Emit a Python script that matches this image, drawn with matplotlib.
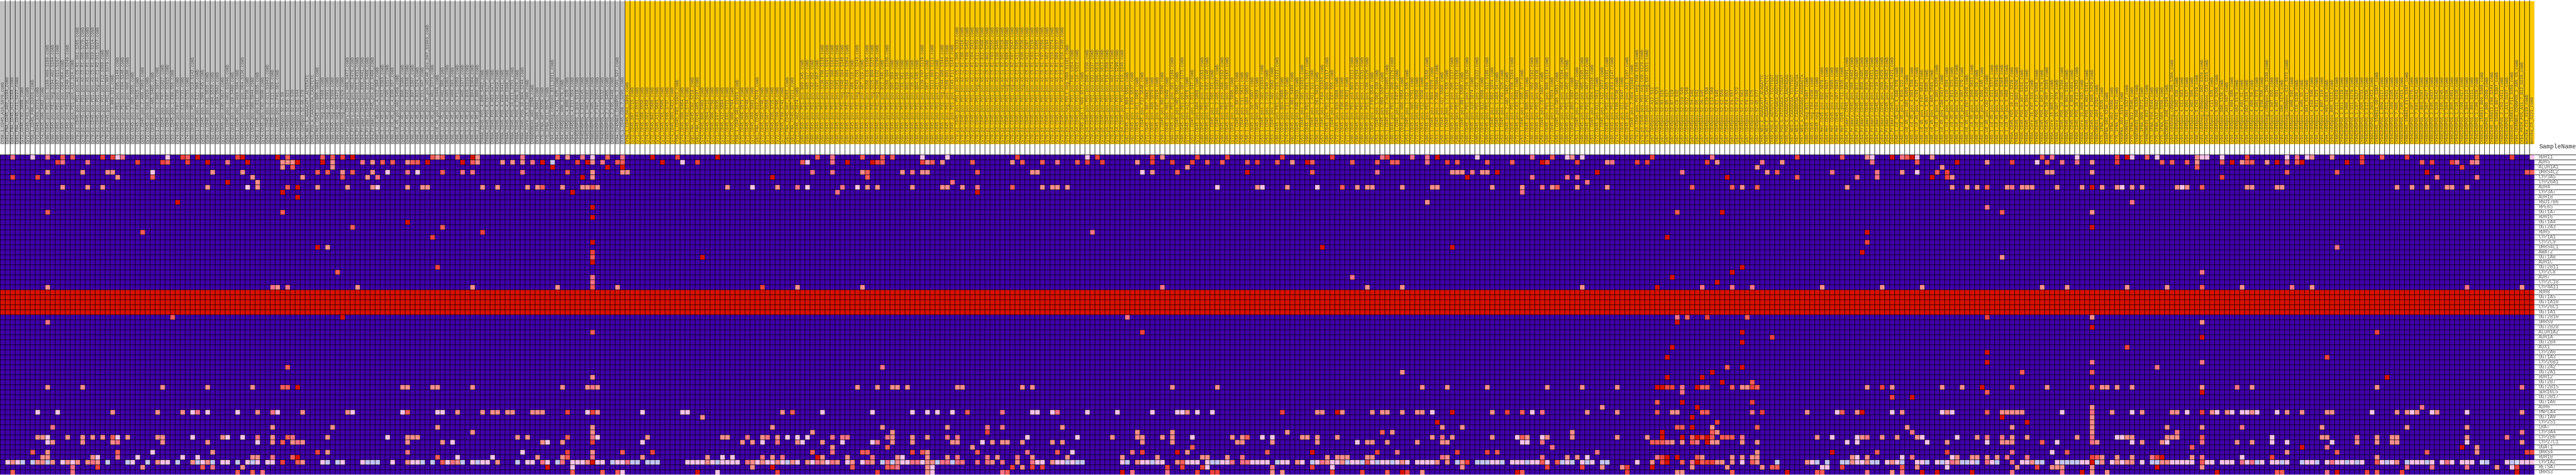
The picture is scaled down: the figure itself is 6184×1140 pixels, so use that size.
import matplotlib
matplotlib.use("Agg")
import matplotlib.pyplot as plt
import numpy as np
from matplotlib.colors import ListedColormap, BoundaryNorm

plt.rcParams["font.family"] = ["Liberation Mono", "DejaVu Sans Mono"]

gene_names = """RDH11 ADH5 ALDH1A1 DHRS4L2 CYP3A5 CYP26A1 ADH4 CYP3A7 ADH1B HSD17B6 RPE65 UGT1A7 RDH16
UGT1A4 UGT2A3 RDH5 CYP1A1 CYP2C9 DHRS4L1 AWAT2 UGT1A8 ADH1C UGT2B11 CYP2C8 ADH7 CYP2C18 CYP4A11
RDH8 UGT1A5 UGT1A10 CYP26C1 UGT1A1 UGT2B10 DHRS9 UGT2B28 ALDH1A2 ADH1A UGT2B4 AOX1 CYP2A6 UGT1A3
CYP26B1 UGT2A2 UGT2A1 RDH12 UGT2B7 UGT2B15 SDR16C5 UGT2B17 UGT1A6 ADH6 PNPLA4 UGT1A9 CYP2S1 LRAT
CYP3A4 CYP2B6 CYP27C1 DGAT1 DHRS4 RDH10 CYP1A2 RETSAT DHRS3""".split()

# these genes are saturated in every sample
saturated_genes = ["RDH8", "UGT1A5", "UGT1A10", "CYP26C1", "UGT1A1"]

sample_names = """CY58_1_CD45_A10_S970_comb Cy81_FNA_CD45_A02_S194_comb Cy81_FNA_CD45_H12_S288_comb Cy81_FNA_CD45_C11_S227_comb
Cy72_CD45_C02_S698_comb Cy72_CD45_F03_S735_comb CY58_1_CD45_F06_S1026_comb Cy72_CD45_E03_S723_comb Cy74_CD45_G06_S462_comb
cy80.Cd45.pos.PD1.pos.S189.H09.S189.comb cy80.Cd45.pos.Pd1.neg.S194.A02.S194.comb cy80.Cd45.pos.PD1.pos.S167.G11.S167.comb
cy80.Cd45.pos.PD1.pos.C04.S64.comb cy80.Cd45.pos.Pd1.neg.S249.C09.S249.comb cy80.Cd45.pos.PD1.pos.A12.S24.comb
cy79.p1.CD45.pos.PD1.pos.AS.C5.R1.G01.S265.comb cy79.p1.CD45.pos.PD1.pos.AS.C5.R1.G06.S270.comb cy79.p3.CD45.pos.PD1.pos.AS.C2.R1.G08.S464.comb
cy79.p1.CD45.pos.PD1.pos.AS.C5.R1.B10.S214.comb cy79.p1.CD45.pos.PD1.neg.AS.C1.R2.D11.S527.comb cy79.p4.CD45.pos.PD1.pos.F12.S360.comb
cy79.p4.CD45.pos.PD1.pos.H07.S379.comb cy82.CD45.pos.3.B09.S21.comb cy80.CD45.pos.PD1.pos.E05.S149.comb cy80.CD45.pos.PD1.pos.E04.S148.comb
cy80.CD45.pos.PD1.pos.H06.S186.comb cy82.CD45.pos.2.G03.S555.comb cy72.CD45.pos.E03.S915.comb cy53.1.CD45.pos.2.A09.S969.comb
cy72.CD45.pos.D10.S910.comb cy82.CD45.pos.2.A05.S485.comb cy53.1.CD45.pos.2.B05.S977.comb cy53.1.CD45.pos.2.F07.S1027.comb
cy53.1.CD45.pos.2.E07.S1015.comb cy53.1.CD45.pos.1.E08.S56.comb cy74.CD45.pos.F07.S739.comb cy74.CD45.pos.E11.S731.comb
cy74.CD45.pos.G09.S753.comb cy80.CD45.pos.PD1.pos.D10.S142.comb cy53.1.CD45.pos.1.E12.S60.comb cy53.1.CD45.pos.1.D09.S45.comb
cy58.1.CD45.pos.E01.S625.comb cy82.CD45.pos.2.D04.S520.comb cy82.CD45.pos.2.B10.S502.comb cy72.CD45.pos.E05.S917.comb
cy53.1.CD45.pos.2.H02.S1046.comb cy82.CD45.pos.2.A10.S490.comb cy53.1.CD45.pos.1.H10.S94.comb cy80.CD45.pos.PD1.pos.D04.S136.comb
cy74.CD45.pos.F04.S736.comb cy72.CD45.pos.G08.S944.comb cy58.1.CD45.pos.E11.S635.comb cy74.CD45.pos.C02.S698.comb
cy53.1.CD45.pos.2.G11.S1043.comb cy53.1.CD45.pos.1.E11.S59.comb cy53.1.CD45.pos.1.F01.S61.comb Cy67.CD45pos.S2.A9.S9
Cy67.CD45pos.S2.B9.S21 Cy67.CD45pos.S2.D3.S39 Cy67.CD45pos.S2.D8.S44 Cy67.CD45pos.S2.G6.S78 CY65_NEG_E_AGAACATT_ACTGTATC
CY65_POS_H_CAAGGCGA_CAACTCTC cy84.Met.CD45.pos.B05.S881.comb cy80.CD45.neg.G12.S468.comb cy80.CD45.neg.A07.S391.comb
cy80.CD45.neg.A05.S389.comb cy80.CD45.neg.H03.S471.comb cy80.CD45.neg.D09.S429.comb Cy84_Primary_CD45_pos_H09_S477_comb
Cy84_Primary_CD45_pos_H02_S470_comb Cy84_Primary_CD45_pos_D11_S431_comb Cy84_Primary_CD45_pos_E09_S441_comb
Cy84_Primary_CD45_pos_G12_S468_comb Cy84_Primary_CD45_pos_B12_S408_comb cy60_1_cd_45_pos_4_G12_S84_comb cy60_1_cd_45_pos_3_H11_S383_comb
cy60_1_cd_45_pos_3_C05_S317_comb cy60_1_cd_45_pos_4_E09_S57_comb cy88_cd_45_pos_G02_S458_comb cy60_1_cd_45_pos_3_B06_S306_comb
cy60_1_cd_45_pos_3_E02_S338_comb cy60_1_cd_45_pos_3_B07_S307_comb cy60_1_cd_45_pos_4_B12_S24_comb cy60_1_cd_45_pos_4_D11_S47_comb
cy60_1_cd_45_pos_HC_pos_HILAR_pos_D07_S1003_comb
cy60_1_cd_45_pos_3_H01_S373_comb cy88_cd_45_pos_E11_S443_comb cy60_1_cd_45_pos_4_H02_S86_comb cy60_1_cd_45_pos_3_G03_S363_comb
cy60_1_cd_45_pos_4_H09_S93_comb cy60_1_cd_45_pos_3_F11_S359_comb cy60_1_cd_45_pos_3_H05_S377_comb cy60_1_cd_45_pos_3_B10_S310_comb
cy60_1_cd_45_pos_3_B04_S304_comb cy60_1_cd_45_pos_3_B08_S308_comb CY89A_CD45_POS_4_B06_S402_comb CY89A_CD45_POS_6_C07_S127_comb
CY89A_CD45_POS_4_H03_S471_comb CY89A_CD45_POS_4_C02_S410_comb CY89A_CD45_POS_4_E09_S441_comb CY89A_CD45_POS_4_A02_S386_comb
CY89A_CD45_POS_10_E11_S251_comb CY89A_CD45_POS_6_C09_S129_comb CY89A_CD45_POS_10_B04_S244_comb CY89A_Core_15_E12_S60_comb
CY89CORE01_A02_S290_comb CY75_1FNA_G09_S561_comb CY75_1FNA_G07_S559_comb CY75_1FNA_H11_S575_comb cy94_cd45neg_cd90pos_B11_S311_comb
cy94_cd45pos_4_C01_S25_comb cy94_cd45pos_G08_S176_comb cy94_cd45pos_4_B08_S20_comb cy94_cd45pos_4_E11_S59_comb CY94CD45POS_1_B10_S118_comb
CY94CD45POS_1_E01_S145_comb CY94CD45POS_1_H02_S182_comb CY88CD45POS_7_G05_S269_comb CY88CD45POS_7_F07_S259_comb CY94CD45POS_1_C12_S132_comb
CY88CD45POS_2_F11_S455_comb CY88CD45POS_2_F05_S449_comb CY94_CD45NEG_CD90POS_2_C03_S27_comb CY75_1_CD45_CD8_7_S205_comb
CY58_1_CD45_D03_S999_comb Cy72_CD45_D07_S715_comb Cy71_CD45_E03_S531_comb Cy71_CD45_G06_S558_comb Cy74_CD45_G02_S458_comb
Cy72_CD45_B02_S686_comb Cy72_CD45_A11_S683_comb Cy71_CD45_C01_S505_comb Cy72_CD45_F05_S737_comb Cy74_CD45_D03_S423_comb
CY58_1_CD45_F03_S1023_comb Cy74_CD45_G08_S464_comb Cy72_CD45_F02_S734_comb Cy81_FNA_CD45_C02_S218_comb Cy81_FNA_CD45_A05_S197_comb
Cy74_CD45_B06_S402_comb Cy72_CD45_D04_S712_comb Cy72_CD45_G06_S750_comb Cy71_CD45_E07_S535_comb Cy72_CD45_A12_S684_comb
Cy72_CD45_E01_S721_comb Cy72_CD45_H08_S764_comb CY58_1_CD45_G01_S1033_comb Cy71_CD45_H09_S573_comb Cy72_CD45_G05_S749_comb
Cy71_CD45_A09_S681_comb Cy81_FNA_CD45_G12_S276_comb Cy72_CD45_G02_S746_comb Cy71_CD45_G07_S559_comb Cy72_CD45_E05_S725_comb
Cy72_CD45_C09_S705_comb Cy72_CD45_F09_S741_comb Cy81_FNA_CD45_H07_S283_comb Cy81_FNA_CD45_B07_S211_comb Cy72_CD45_A02_S674_comb
cy80.Cd45.pos.PD1.pos.B09.S45.comb cy80.Cd45.pos.PD1.pos.A05.S17.comb cy80.Cd45.pos.PD1.pos.C02.S62.comb cy80.Cd45.pos.PD1.pos.C07.S67.comb
cy80.Cd45.pos.PD1.pos.S138.F06.S138.comb cy80.Cd45.pos.PD1.pos.S191.H11.S191.comb cy80.Cd45.pos.PD1.pos.S162.G06.S162.comb
cy80.Cd45.pos.PD1.pos.S161.G05.S161.comb cy80.Cd45.pos.Pd1.neg.S340.G04.S340.comb cy80.Cd45.pos.Pd1.neg.S364.H04.S364.comb
cy80.Cd45.pos.PD1.pos.A06.S18.comb cy80.Cd45.pos.Pd1.neg.S243.C03.S243.comb
cy80.Cd45.pos.PD1.pos.A07.S19.comb cy80.Cd45.pos.PD1.pos.S166.G10.S166.comb cy80.Cd45.pos.Pd1.neg.S225.B09.S225.comb
cy80.Cd45.pos.Pd1.neg.S290.E02.S290.comb cy80.Cd45.pos.PD1.pos.B12.S48.comb cy80.Cd45.pos.PD1.pos.S160.G04.S160.comb
cy80.Cd45.pos.PD1.pos.D05.S89.comb cy80.Cd45.pos.PD1.pos.B10.S46.comb cy80.Cd45.pos.PD1.pos.C01.S61.comb cy80.Cd45.pos.PD1.pos.B02.S38.comb
cy80.Cd45.pos.PD1.pos.C05.S65.comb cy80.Cd45.pos.PD1.pos.B04.S40.comb cy80.Cd45.pos.PD1.pos.S139.F07.S139.comb cy80.Cd45.pos.PD1.pos.D07.S91.comb
cy80.Cd45.pos.PD1.pos.S111.D03.S111.comb cy80.Cd45.pos.PD1.pos.A11.S23.comb cy80.Cd45.pos.Pd1.neg.S344.G08.S344.comb
cy80.Cd45.pos.PD1.pos.S109.D01.S109.comb cy80.Cd45.pos.PD1.pos.S143.F11.S143.comb cy79.p1.CD45.pos.PD1.pos.AS.C5.R1.D05.S233.comb
cy79.p3.CD45.pos.PD1.pos.AS.C2.R1.C08.S416.comb cy79.p3.CD45.pos.PD1.pos.AS.C2.R1.F08.S452.comb cy79.p3.CD45.pos.PD1.pos.AS.C2.R1.C04.S412.comb
cy79.p1.CD45.pos.PD1.neg.AS.C1.R2.E11.S539.comb cy79.p3.CD45.pos.PD1.pos.AS.C2.R1.B12.S408.comb cy79.p1.CD45.pos.PD1.pos.AS.C5.R1.B02.S206.comb
cy79.p1.CD45.pos.PD1.pos.AS.C5.R1.F03.S255.comb cy79.p3.CD45.pos.PD1.pos.AS.C2.R1.E08.S440.comb cy79.p1.CD45.pos.PD1.neg.AS.C1.R2.D02.S518.comb
cy79.p1.CD45.pos.PD1.neg.AS.C1.R2.B06.S498.comb cy79.p1.CD45.pos.PD1.neg.AS.C1.R2.F07.S547.comb cy79.p3.CD45.pos.PD1.pos.AS.C2.R1.A11.S395.comb
cy79.p1.CD45.pos.PD1.neg.AS.C1.R2.E08.S536.comb cy79.p1.CD45.pos.PD1.pos.AS.C5.R1.H11.S287.comb cy79.p1.CD45.pos.PD1.pos.AS.C5.R1.C03.S219.comb
cy79.p3.CD45.pos.PD1.pos.AS.C2.R1.F11.S455.comb cy79.p1.CD45.pos.PD1.pos.AS.C5.R1.F07.S259.comb cy79.p1.CD45.pos.PD1.pos.AS.C5.R1.A02.S194.comb
cy79.p1.CD45.pos.PD1.pos.AS.C5.R1.G10.S274.comb cy79.p1.CD45.pos.PD1.pos.AS.C5.R1.D09.S237.comb cy79.p3.CD45.pos.PD1.pos.AS.C2.R1.D10.S430.comb
cy79.p3.CD45.neg.PDL1.neg.D09.S1101.comb cy79.p4.CD45.pos.PD1.pos.F06.S354.comb cy79.p4.CD45.pos.PD1.pos.C10.S322.comb cy82.CD45.pos.1.H09.S573.comb
cy79.p4.CD45.pos.PD1.pos.D06.S330.comb cy79.p4.CD45.pos.PD1.pos.E01.S337.comb cy79.p5.CD45.pos.PD1.pos.D06.S618.comb cy79.p5.CD45.pos.PD1.pos.D01.S613.comb
cy79.p4.CD45.pos.PD1.pos.F10.S358.comb cy79.p4.CD45.pos.PD1.pos.H02.S374.comb cy79.p4.CD45.pos.PD1.pos.A11.S299.comb cy79.p4.CD45.pos.PD1.pos.E10.S346.comb
cy82.CD45.pos.1.B09.S501.comb cy82.CD45.pos.1.E09.S537.comb cy72.CD45.pos.H11.S959.comb cy58.1.CD45.pos.F12.S648.comb cy72.CD45.pos.B07.S883.comb
cy72.CD45.pos.A06.S870.comb cy72.CD45.pos.E07.S919.comb cy58.1.CD45.pos.B02.S590.comb cy72.CD45.pos.H01.S949.comb cy80.CD45.pos.PD1.pos.G01.S169.comb
cy58.1.CD45.pos.H02.S662.comb cy80.CD45.pos.PD1.pos.G07.S175.comb cy72.CD45.pos.A12.S876.comb cy53.1.CD45.pos.1.D11.S47.comb cy72.CD45.pos.A04.S868.comb
cy80.CD45.pos.PD1.pos.F07.S163.comb cy80.CD45.pos.PD1.pos.E02.S146.comb cy53.1.CD45.pos.1.D05.S41.comb cy53.1.CD45.pos.2.G05.S1037.comb
cy80.CD45.pos.PD1.pos.A06.S102.comb cy80.CD45.pos.PD1.pos.H03.S183.comb cy72.CD45.pos.C07.S895.comb cy58.1.CD45.pos.B07.S595.comb
cy58.1.CD45.pos.C11.S611.comb cy58.1.CD45.pos.G04.S652.comb cy72.CD45.pos.D07.S907.comb cy72.CD45.pos.A05.S869.comb cy53.1.CD45.pos.2.G02.S1034.comb
cy53.1.CD45.pos.1.D10.S46.comb cy53.1.CD45.pos.2.A02.S962.comb cy80.CD45.pos.PD1.pos.C03.S123.comb cy72.CD45.pos.B04.S880.comb cy74.CD45.pos.C11.S707.comb
cy82.CD45.pos.2.B02.S494.comb cy72.CD45.pos.F09.S933.comb cy53.1.CD45.pos.2.G01.S1033.comb cy80.CD45.pos.PD1.pos.F01.S157.comb cy53.1.CD45.pos.1.A11.S11.comb
cy58.1.CD45.pos.D01.S613.comb cy53.1.CD45.pos.2.F04.S1024.comb cy80.CD45.pos.PD1.pos.B09.S117.comb cy53.1.CD45.pos.1.E07.S55.comb cy72.CD45.pos.B10.S886.comb
cy72.CD45.pos.F06.S930.comb cy72.CD45.pos.E09.S921.comb cy80.CD45.pos.PD1.pos.B03.S111.comb cy80.CD45.pos.PD1.pos.E10.S154.comb cy80.CD45.pos.PD1.pos.C11.S131.comb
cy80.CD45.pos.PD1.pos.C06.S126.comb cy82.CD45.pos.2.F09.S549.comb cy53.1.CD45.pos.1.D02.S38.comb cy58.1.CD45.pos.B09.S597.comb cy53.1.CD45.pos.2.H11.S1055.comb
cy80.CD45.pos.PD1.pos.G08.S176.comb cy53.1.CD45.pos.1.F07.S67.comb cy72.CD45.pos.H06.S954.comb cy53.1.CD45.pos.1.C12.S36.comb cy74.CD45.pos.H05.S761.comb
cy72.CD45.pos.H02.S950.comb cy72.CD45.pos.F12.S936.comb cy80.CD45.pos.PD1.pos.E06.S150.comb cy53.1.CD45.pos.2.B04.S976.comb cy53.1.CD45.pos.2.D08.S1004.comb
cy58.1.CD45.pos.A12.S588.comb cy53.1.CD45.pos.1.C11.S35.comb cy80.CD45.pos.PD1.pos.D05.S137.comb cy80.CD45.pos.PD1.pos.E12.S156.comb cy58.1.CD45.pos.B01.S589.comb
cy80.CD45.pos.PD1.pos.C10.S130.comb cy72.CD45.pos.A10.S874.comb cy80.CD45.pos.PD1.pos.C02.S122.comb cy72.CD45.pos.B12.S888.comb cy80.CD45.pos.PD1.pos.G12.S180.comb
cy53.1.CD45.pos.2.B02.S974.comb cy53.1.CD45.pos.1.A04.S4.comb cy53.1.CD45.pos.1.C02.S26.comb cy82.CD45.pos.2.A02.S482.comb cy80.CD45.pos.PD1.pos.F08.S164.comb
cy72.CD45.pos.C03.S891.comb cy53.1.CD45.pos.1.G05.S77.comb cy72.CD45.pos.B05.S881.comb cy80.CD45.pos.PD1.pos.H02.S182.comb cy80.CD45.pos.PD1.pos.D06.S138.comb
cy58.1.CD45.pos.C07.S607.comb cy80.CD45.pos.PD1.pos.B06.S114.comb cy72.CD45.pos.E12.S924.comb cy58.1.CD45.pos.G05.S653.comb cy80.CD45.pos.PD1.pos.H04.S184.comb
cy80.CD45.pos.PD1.pos.A02.S98.comb cy74.CD45.pos.B03.S687.comb cy53.1.CD45.pos.2.B10.S982.comb cy80.CD45.pos.PD1.pos.H05.S185.comb cy80.CD45.pos.PD1.pos.A07.S103.comb
cy53.1.CD45.pos.2.G04.S1036.comb cy72.CD45.pos.D11.S911.comb cy53.1.CD45.pos.2.A12.S972.comb cy80.CD45.pos.PD1.pos.A05.S101.comb cy80.CD45.pos.PD1.pos.E03.S147.comb
cy74.CD45.pos.F06.S738.comb cy72.CD45.pos.G11.S947.comb cy80.CD45.pos.PD1.pos.A11.S107.comb cy53.1.CD45.pos.2.H04.S1048.comb cy79.p3.CD45.pos.PD1.neg.F09.S165.comb
cy79.p3.CD45.pos.PD1.neg.C09.S129.comb cy79.p3.CD45.pos.PD1.neg.E07.S151.comb Cy67.CD45pos.S2.A12.S12 Cy67.CD45pos.S2.B11.S23 Cy67.CD45pos.S2.B3.S15
Cy67.CD45pos.S2.B5.S17 Cy67.CD45pos.S2.B7.S19 Cy67.CD45pos.S2.C8.S32 Cy67.CD45pos.S2.D10.S46 Cy67.CD45pos.S2.D12.S48 Cy67.CD45pos.S2.D4.S40
Cy67.CD45pos.S2.D5.S41 Cy67.CD45pos.S2.D9.S45 Cy67.CD45pos.S2.E10.S58 Cy67.CD45pos.S2.E12.S60 Cy67.CD45pos.S2.E1.S49
Cy67.CD45pos.S2.E2.S50 Cy67.CD45pos.S2.E4.S52 Cy67.CD45pos.S2.E9.S57 Cy67.CD45pos.S2.F12.S72 Cy67.CD45pos.S2.F1.S61 Cy67.CD45pos.S2.F9.S69
Cy67.CD45pos.S2.G3.S75 Cy67.CD45pos.S2.G5.S77 CY65_NEG_E_AGAACATT_ACAGATTC CY65_NEG_E_AGAACATT_CAACTCTC CY65_POS_E_AGTGTCTT_TCCTTGGT
CY65_POS_F_ATCCGACA_AGGTAAGG CY65_POS_G_ATCCGACA_CTCCGGAT CY65_POS_G_CAAGGCGA_AAGTAGAG CY67_NEG_A_CAAGGCGA_TCCTTGGT CY67_NEG_A_CAAGGCGA_TCTGGCGA
CY67_NEG_A_CAGAGAGG_AAGGAGTA cy80.CD45.neg.B11.S407.comb cy80.CD45.neg.F04.S436.comb cy80.CD45.neg.E04.S448.comb cy84.Met.CD45.pos.B02.S878.comb
cy84.Met.CD45.pos.G01.S937.comb cy84.Met.CD45.pos.C07.S895.comb cy84.Met.CD45.pos.G07.S943.comb cy84.Met.CD45.pos.F11.S935.comb
Cy84_Primary_CD45_pos_A09_S393_comb Cy84_Primary_CD45_pos_G06_S462_comb Cy84_Primary_CD45_pos_B11_S407_comb Cy84_Primary_CD45_pos_B09_S405_comb
Cy84_Primary_CD45_pos_B10_S406_comb Cy84_Primary_CD45_pos_C03_S411_comb Cy84_Primary_CD45_pos_C10_S418_comb Cy84_Primary_CD45_pos_D09_S429_comb
Cy84_Primary_CD45_pos_G07_S463_comb Cy84_Primary_CD45_pos_D03_S423_comb cy60_1_cd_45_pos_4_G06_S78_comb cy60_1_cd_45_pos_4_B10_S22_comb
cy88_cd_45_pos_G03_S459_comb cy60_1_cd_45_pos_4_D03_S39_comb cy60_1_cd_45_pos_4_C03_S27_comb cy88_cd_45_pos_3_F07_S643_comb cy88_cd_45_pos_3_B07_S595_comb
cy88_cd_45_pos_3_B05_S593_comb cy60_1_cd_45_pos_3_D01_S325_comb cy88_cd_45_pos_C09_S417_comb cy60_1_cd_45_pos_4_C10_S34_comb cy60_1_cd_45_pos_4_B11_S23_comb
cy60_1_cd_45_pos_3_C07_S319_comb cy60_1_cd_45_pos_4_G07_S79_comb cy88_cd_45_pos_E07_S439_comb cy60_1_cd_45_pos_3_D09_S621_comb cy60_1_cd_45_pos_4_A09_S9_comb
cy60_1_cd_45_pos_4_D09_S45_comb cy88_cd_45_pos_C02_S410_comb cy60_1_cd_45_pos_3_G11_S371_comb cy60_1_cd_45_pos_3_B03_S591_comb cy60_1_cd_45_pos_3_G05_S365_comb
cy60_1_cd_45_pos_3_H08_S380_comb CY89A_CD45_POS_10_C12_S228_comb CY89A_CD45_POS_10_B02_S206_comb CY89A_CD45_POS_6_A07_S103_comb CY89A_CD45_POS_4_D04_S424_comb
CY89A_Core_15_C07_S31_comb CY89A_CD45_POS_4_F12_S456_comb CY89A_CD45_POS_6_G02_S170_comb CY89A_CD45_POS_10_H07_S283_comb CY89A_Core_15_B05_S17_comb
CY89A_Core_15_G07_S79_comb CY89A_CD45_POS_10_G02_S266_comb CY89A_CD45_POS_6_B01_S109_comb CY89A_CD45_POS_4_B08_S404_comb CY89A_CD45_POS_10_E12_S252_comb
CY89A_Core_15_H08_S92_comb CY89A_CD45_POS_6_H01_S181_comb CY89A_CD45_POS_4_D09_S429_comb CY89CORE01_A04_S292_comb CY75_1FNA_F07_S535_comb CY89FNA_D02_S230_comb
CY75_1FNA_H02_S566_comb CY75_1FNA_F01_S541_comb CY89FNA_A02_S194_comb CY89CORE01_D03_S327_comb CY75_1FNA_B12_S540_comb CY89CORE01_D06_S330_comb
CY75_1FNA_H09_S573_comb CY89CORE01_B12_S312_comb
CY75_1FNA_F04_S544_comb CY75_1FNA_A12_S492_comb CY75_1FNA_G04_S556_comb CY89CORE01_A06_S294_comb cy94_cd45neg_cd90pos_G06_S366_comb cy94_cd45pos_4_D02_S38_comb
cy94_cd45pos_4_G11_S83_comb cy94_cd45pos_4_D01_S37_comb cy94_cd45pos_4_H02_S86_comb cy88_cd45pos_5_C03_S219_comb cy94_cd45neg_cd90pos_D02_S326_comb
cy94_cd45neg_cd90pos_C03_S315_comb cy94_cd45pos_4_C11_S35_comb cy88_cd45pos_5_G02_S266_comb cy94_cd45pos_D06_S138_comb cy94_cd45pos_A01_S97_comb
cy94_cd45pos_4_H04_S88_comb cy94_cd45pos_G02_S170_comb cy94_cd45pos_4_A01_S1_comb cy94_cd45pos_D02_S134_comb cy94_cd45pos_4_A06_S6_comb cy94_cd45pos_4_G01_S73_comb
cy94_cd45pos_4_E08_S56_comb cy94_cd45neg_cd90pos_D06_S330_comb cy94_cd45pos_4_D07_S55_comb cy94_cd45pos_4_H07_S91_comb cy94_cd45pos_G06_S174_comb
cy94_cd45neg_cd90pos_G12_S372_comb cy94_cd45pos_4_H08_S92_comb cy94_cd45pos_C10_S130_comb cy94_cd45pos_4_A05_S5_comb cy94_cd45pos_B03_S111_comb
cy94_cd45pos_4_D10_S46_comb cy94_cd45pos_4_B11_S23_comb cy94_cd45pos_4_B07_S19_comb cy94_cd45pos_H03_S183_comb cy94_cd45pos_B05_S113_comb
CY88CD45POS_2_C11_S419_comb CY94CD45POS_1_B11_S119_comb CY94CD45POS_1_H08_S188_comb CY94CD45POS_1_G11_S179_comb CY94CD45POS_1_C07_S127_comb
CY88CD45POS_7_D05_S233_comb CY94CD45POS_1_E12_S156_comb CY88CD45POS_2_D03_S423_comb CY88CD45_150813_G07_S367_comb CY94CD45POS_1_B09_S117_comb
CY88CD45POS_2_D11_S431_comb CY94CD45POS_1_A09_S105_comb CY88CD45POS_7_H05_S281_comb CY88CD45POS_2_C05_S413_comb CY88CD45_150813_E11_S347_comb
CY94CD45POS_1_G07_S175_comb CY88CD45POS_7_E01_S241_comb CY88CD45POS_7_B03_S207_comb CY88CD45POS_2_D07_S427_comb CY88CD45POS_2_E05_S437_comb
CY94CD45POS_1_D10_S142_comb CY88CD45POS_7_E05_S245_comb CY94CD45POS_1_D04_S136_comb CY88CD45POS_2_B05_S401_comb CY94CD45POS_1_C10_S130_comb
CY88CD45POS_2_C09_S417_comb CY94CD45POS_1_B04_S112_comb CY94CD45POS_1_B03_S111_comb CY94CD45POS_1_C08_S128_comb CY88CD45_150813_B09_S309_comb
CY88CD45POS_7_B05_S209_comb CY88CD45_150813_E08_S344_comb CY88CD45_150813_B07_S307_comb CY88CD45POS_2_C03_S411_comb CY94CD45POS_1_A11_S107_comb
CY88CD45_150813_F11_S359_comb CY94_CD45NEG_CD90POS_2_A05_S5_comb CY84_PRIM_POS_A11_7_B12_S216_comb monika_C11_S119_comb monika_C5_S123_comb""".split()

n_gray_samples = 125

# levels, A (palest) to H (darkest red)
level_codes = "ABCDEFGH"
level_colors = ["#3f00a8", "#d8d8ff", "#c4c4ff", "#ffc0e8", "#ff8c8c",
                "#ff7088", "#ff5a5a", "#f04040", "#d81000"]

# nonzero cells by gene row, as "<column in block><level>"; each block holds 86 columns
block_starts = [0, 86, 172, 258, 344, 430]

hits_block_1 = {
    0: "2E 6C 9E 12F 14F 20G 22G 23C 24E 33C 36G 37F 39H 47G 48H 55H 57F 64F 66F 68G 70H",
    1: "11G 12E 17E 27G 32G 33F 37G 41H 45E 49H 56D 57D 58D 59H 64H 66D 72E 74D 76F 78F 81D 82F 83F 85H",
    2: "56D 58F 66D",
    3: "9D 16D 21D 22D 30C 42D 48D 63F 65F 68D 70F 74D 77C 81E 83C",
    4: "2G 7G 23D 30F 50D 60D 68F 73D 75E",
    5: "45H 51D",
    6: "12D 17D 20D 41D 49C 51D 57F 59H 63D 69D 74D 75C 81D 84D 85D",
    7: "56H", 8: "59H", 9: "35H", 11: "9F 56F", 13: "81H", 14: "70F", 15: "28F", 18: "63H 65D", 23: "67F",
    26: "9D 54E 55D 57E 71D",
    32: "34F 68H", 33: "9E", 42: "57F",
    46: "9D 16D 32D 41D 50D 56F 57F 59H 80D 81D",
    51: "7C 11C 22D 31D 36D 38C 39E 41C 47C 51D 54E 55C 60D 69D 70C 80C 81F",
    54: "10E 54D 66D",
    56: "7D 8D 9C 13D 16D 18D 20D 22F 23C 25D 31D 32D 38C 44D 45C 48C 51E 54D 57F 58E 65D 77C 81D 82D 83D",
    57: "9C 10D 16D 22D 23E 32D 41D 51C 54D 56F 58D 59E 60D 81D",
    59: "6F 9D 23F 30C 42D 63G 65D 81E",
    60: "8D 9D 18D 19C 23E 27C 36C 39C 50D 51D 54E 58F 59H",
    61: "1C 2D 3C 4B 6B 7D 8D 9B 10D 12C 13D 14C 15D 17D 18E 19D 21B 25B 26C 29B 31D 32C 33C 35B 38D 39B 40C 41D 42B 44C 45C 47B 49C 50B 51C 53C 54C 56G 59F 60D 64C 65B 67B 68C 72C 73B 74B 75B 78C 81D 82C 83C 84B",
    62: "14E 19G 28D 40F 42E 48D",
    63: "2F 14E 47F 50F 52E",
}

hits_block_2 = {
    0: "0F 1D 2F 5F 8H 9D 18E 25F 27D 30E 32C 35F 38E 44H 49G 57H 77F 80E",
    1: "6H 8F 9D 14D 16D 18D 20E 22H 24B 29G 31H 32D 34E 37F 38F 46H 50C 53G 74F 75C 80E 83H",
    2: "24H 35H 38H",
    3: "2F 6E 8E 18E 27F 32D 38D 39D 76E 80E",
    4: "30H 32D 68H",
    6: "10D 13D 19D 21D 22F 26D 30D 31D 32F 33D 59D 64C 69D 73E 75C 82E 85C",
    7: "28H 81E", 10: "32H", 12: "32H", 14: "2F", 15: "10G", 16: "0G", 17: "32H", 19: "32G",
    20: "32F 54H", 21: "32H", 22: "1G", 24: "32E", 25: "32E",
    26: "8D 25D 32F 37D 66G 73D",
    35: "32F", 44: "32D",
    46: "0D 1D 8D 26D 31D 32E 33D 85D",
    51: "1C 2C 5D 10D 12D 13D 15D 16D 20D 21D 22D 27G 31C 32G 33D 42C 50C 51C 70D 72F 78C",
    52: "54D", 54: "1D 32D 68D", 55: "8D 32D 76D",
    56: "17D 19D 27F 32E 33C 43D 58D 59D 63E 66D 67E 69D 71C 73C 75C 80E 82E 83E",
    57: "2D 4C 22D 23C 26D 32G 42C 62D 64D 66C 69E 73D 74C 78D 82C",
    58: "80D",
    59: "18C 27G 32D 38F 44G 76F 80E",
    60: "1F 5C 12C 21D 26D 27F 32E 42D 55D 58C 60C 66E 68D 70E 77H 78D 83D",
    61: "0B 2F 3C 4E 5D 6B 8C 9B 10C 11C 13D 17B 19C 20C 22E 23C 25B 26E 28C 29C 30C 31D 32H 33C 34C 36B 37C 38C 39E 40B 41B 43B 44B 45B 51C 52C 53C 54C 55D 56C 57B 58C 59C 60C 61C 63E 64D 65C 66D 67C 68C 69D 70C 71B 72D 73C 75D 76C 77E 78D 79C 80E 81D 83C 84D",
    62: "23H 28C 64D 68H 84F",
    63: "28F 34F 37F 38C 53H 57C 69G",
}

hits_block_3 = {
    0: "0F 4F 6F 12C 17C 31G 45C 47G 58G 60D 67G 73G 84G",
    1: "2H 3G 4F 12G 13D 14F 16D 22F 30D 32F 36F 39E 43F 45G 48G 55D 58G 62G 66G 69F 72F 77F 79G 83F",
    2: "65D",
    3: "0D 1F 8D 10E 12D 13D 23F 34D 35D 56C 58D 63F 77H",
    4: "1F", 5: "18E",
    6: "1D 3D 10D 16D 17D 20D 23E 30F 36D 38D 39D 41D 71C 79D 80C 85D",
    7: "23H", 15: "46E", 26: "0D 60E", 32: "53E", 35: "56G", 42: "4E",
    46: "3D 6D 7D 9D 19D 20D 32D 34D 62D 71D",
    51: "2C 10C 13C 15C 18C 21F 28E 34C 35C 38C 39E 45C 51C 58C 63C 64C 65D 67C 70C 84G",
    54: "4D 17D 25E 28E 40D",
    55: "6D 25G 55D 62D 85D",
    56: "5E 6D 10D 13D 17E 19E 33C 43C 50D 55D 56D 60D 62D 66C 74D 76D 77F 80C 82C",
    57: "2C 3E 6D 10D 18D 19D 24C 26D 28D 29D 32D 38D 40D 56D 62D 75D 76D 82D",
    58: "5F 22D 66F",
    59: "0F 1F 10G 12F 13D 23F 33E 39F 42C 54E 56G 63H 65D 81F",
    60: "2E 7D 8C 13D 17D 19E 25E 27D 31E 34D 41D 52D 59D 68D 69D 73D 76E",
    61: "0C 1E 2D 4B 5E 6B 7D 8C 9C 10E 11E 12C 13D 14D 15B 16E 17E 18B 19E 20E 23E 25E 26D 28E 31D 34E 35C 36C 38D 39C 40C 41B 42C 43B 44B 52C 53B 55D 56C 57C 58B 59C 60C 63D 64F 65C 66C 67C 69C 70B 71B 72C 73C 74E 76E 77E 78C 79C 80C 81C 83B 84C 85C",
    62: "5F 6F 7E 13D 14C 30G 32D 34G 36G 61G 64G 68G 69C 82E",
    63: "3G 13D 14C 28E 29F 52H 54E 61E 67G 70G 71G 82D 84D",
}

hits_block_4 = {
    0: "8G 18E 19G 24E 27E 29H 37C 48E 52F 55C 56D 58C 72G 84E",
    1: "0D 3H 4F 12F 17F 20F 21F 27E 31G 33F 39F 44F 50H 51G 57G 63D 64E 69G 71G 83G 85D",
    3: "4F 17E 32D 33D 34D 36E 38D 39D 41H 61H 78E",
    4: "35H 48E 55E 57E",
    5: "59E",
    6: "5C 10F 13D 15D 16D 22D 28D 29D 40D 46D 50E 52D 53F 57D 63D 80F",
    7: "46E", 9: "27D", 11: "77F", 16: "75H", 18: "6H 32H", 24: "12E 76H", 25: "85H",
    26: "15D 22D 58D 73H 82E",
    32: "77E 79F 83G", 33: "77H", 38: "76H", 40: "75H", 43: "22D 84H", 44: "75H 82H",
    46: "26D 31D 39D 51D 58D 65D 73H 74H 75G 76G 78E 81H 82F 83F",
    47: "78E", 49: "73F 78H", 50: "62D 81H",
    51: "5D 6D 9H 10D 16D 18D 19D 22D 25D 26D 28C 32H 40D 43G 46F 48C 50E 59D 65D 73F 76D 77D 82F 83F",
    52: "80H", 53: "29H 85G",
    54: "30D 34D 77F 78F 80H 84D",
    55: "18F 20D 56D 74H 84F 85D",
    56: "2D 3D 5D 9D 28D 30E 32D 40D 45C 46F 47D 50C 51D 56D 65D 71D 74H 78H 80F 81H 82G 83H 84F",
    57: "5D 13C 15D 16D 19D 25D 30D 31D 46C 47C 50E 72F 73F 74F 75E 76D 78D 80F 81E 83H 84D 85D",
    58: "52E",
    59: "4H 17G 21E 33G 39G 41F 61E",
    60: "7D 9D 10D 11D 15D 16D 30E 31D 50E 55D 57D 59C 73E 74G 75H 77H 81F 82D",
    61: "1D 2C 4B 5C 6E 7D 8C 9C 10D 11B 12C 13C 14B 15F 16C 17B 18C 19C 20B 21C 22D 23C 25C 26C 27C 28C 29D 31D 33B 34D 35G 37B 38B 39B 40C 41C 42B 44C 45C 46C 47B 48C 49C 50F 51C 53F 54B 55C 56B 58C 59B 60C 62B 63B 69C 72D 74G 75H 78F 80E 81H 82F 83G 84G 85D",
    62: "4G 8C 34D 51G 58G 62D 66D 67G 72H 80D",
    63: "8G 14G 19F 22H 23G 26D 45H 46F 67G 77D 78D",
}

hits_block_5 = {
    0: "15G 24F 29D 30C 34H 36E 37F 38H 39C 42D 64F 66E 71C 79G 81H 82C 85F",
    1: "8E 12D 30E 39F 47H 53D 58G 63C 65F 68E 71E 74D 79G",
    2: "7D 44D",
    3: "9D 11F 22E 31E 36D 39C 43F 45G 65D 66D 74D",
    4: "1H 15F 27E 31E 42H 45G 46D",
    6: "2F 4D 7F 25D 46D 49D 51D 53F 57D 58E 60D 61D 62D 67D 72D 74H 76D 79D 80C 82D 84D",
    9: "82E", 10: "53E", 11: "0H 56F 74D", 14: "74H", 15: "29H", 17: "29G", 19: "28H", 20: "56D", 22: "4H", 23: "2H",
    26: "2E 6E 20D 32D 40D 64D 69D 81D",
    32: "5F 53G 74D", 34: "74H", 35: "4H", 36: "10G", 37: "4H", 38: "81G", 39: "53H", 41: "53H 74E", 42: "1F 4H",
    43: "60F 74F", 45: "0H 6F",
    46: "2F 4D 5D 6G 7F 29D 32G 34D 44D 48D 52H 58F 65D 74F 76D 77D 79D 82D",
    47: "53F", 48: "34G 38H", 49: "6G", 50: "74D",
    51: "6E 8G 17D 23C 24F 27D 28H 34C 36D 44C 45D 46C 53F 56D 57D 58D 59D 60D 68C 74E 78D 82C 84D",
    52: "56H 74D", 53: "61H 74D", 54: "7F 37D 58D 74D", 55: "38E 74D",
    56: "0F 1F 2F 4E 19D 22C 27C 28D 29E 32D 35D 39D 40C 47C 51D 53E 56E 58D 61D 71D 74E 79C 80C 81D 82D",
    57: "4D 7D 25C 27C 41C 45D 53C 56D 57D 58D 64F 67C 74E 75D 82C 84D",
    59: "7D 22H 31F 45G 58E 66C 69F",
    60: "2D 4D 6D 7D 26D 27C 29D 36C 38E 46C 47D 50D 51D 53D 55D 57E 61E 74G 75F 76D 79D 82D",
    61: "0D 2D 4C 6F 7D 11B 17D 18C 19B 21B 24B 25B 26D 27C 28C 29D 30B 31B 33C 34D 35C 36B 39C 40C 41B 43C 44B 45C 46E 47D 48B 49B 50C 51B 53E 54C 55B 58E 60C 61C 62D 63B 64B 67C 68B 69B 70B 71B 72C 73C 74H 75B 76D 78C 79D 80C 81D 82D 84C",
    62: "1D 8D 10F 11F 20C 21C 24G 36F 39D 45C 59D 63G 66D 67D 68D 74D",
    63: "2F 13H 19F 20F 29E 34D 36E 40H 43H 50H 58E 68E 72H 74D 77D",
}

hits_block_6 = {
    0: "1C 9D 10C 11C 14C 19G 27C 29E 31C 32D 36D 42G 46F 51G 65F 72G 76C",
    1: "2F 4F 7F 9D 14F 16H 18D 19F 20F 23D 25H 27E 29F 30H 39H 42G 54F 56G 60G 61E 64E 65D",
    2: "9F 62G",
    3: "27F 37F 55H 75F 76F",
    4: "14G 57E 65E",
    6: "5D 6C 7D 10F 19D 20D 25D 26D 49D 52D 55D 59D 60D 63D",
    18: "37E", 23: "10E",
    26: "3D 10F 18D 28E 32D 63E 74D",
    33: "10D", 35: "45G", 36: "10H", 40: "35G", 41: "10E", 42: "1E", 44: "47H",
    46: "10D 17E 20D 45D 74E",
    47: "10H", 50: "54E",
    51: "4D 5D 7C 10G 12D 13C 15D 16C 18C 19C 20D 21C 25C 27D 30D 35D 36D 44C 49D 51D 52C 53D 56C 57D 63C 74D",
    54: "3D 10D 18E 34D 51D 63D",
    55: "5E 74E",
    56: "3D 4D 5D 10F 24C 34D 35D 41E 45D 48D 49D 63D 71E",
    57: "2D 3C 10E 17D 20D 24C 27C 36C 41D 45D 48D 49D 63C 74D",
    58: "8F 30H 35E 62H 65D",
    59: "27D 37F 55F 65D 75G 76G",
    60: "0E 1G 2H 8D 10E 18C 24G 45D",
    61: "0B 1B 2D 3D 4C 5C 6C 7C 8C 10F 11C 12C 14C 15C 16C 18E 19C 20E 21B 22C 24C 25C 26B 27C 30B 31C 32C 33B 35C 36E 37C 38C 39B 40C 41B 42C 45F 46C 47B 48C 49D 51B 52C 53C 54C 55B 56C 58C 59E 60C 62C 63C 64C 66A 67B 71C 72B 73A 74C 75C 76C",
    62: "1H 10D 51E 56E 63E 69D 72C 73G",
    63: "13H 25F 26F 35E 37H 43G 45F 50G 73H",
}

hit_blocks = [hits_block_1, hits_block_2, hits_block_3, hits_block_4, hits_block_5, hits_block_6]


def build_matrix():
    mat = np.zeros((len(gene_names), len(sample_names)), dtype=int)
    for start, block in zip(block_starts, hit_blocks):
        for row, cells in block.items():
            for tok in cells.split():
                mat[row, start + int(tok[:-1])] = level_codes.index(tok[-1]) + 1
    for gene in saturated_genes:
        mat[gene_names.index(gene), :] = len(level_codes)
    return mat


W, H = 6184.0, 1140.0
grid_right = 6084.0
heat_top = 371.0


def add_axes_px(fig, x0, y0, x1, y1):
    ax = fig.add_axes([x0 / W, 1 - y1 / H, (x1 - x0) / W, (y1 - y0) / H])
    ax.axis("off")
    return ax


def main():
    mat = build_matrix()
    n_rows, n_cols = mat.shape
    print(n_rows, n_cols)

    fig = plt.figure(figsize=(W / 100, H / 100), dpi=100, facecolor="white")

    # heatmap
    ax = add_axes_px(fig, 0, heat_top, grid_right, heat_top + n_rows * 12)
    cmap = ListedColormap(level_colors)
    norm = BoundaryNorm(np.arange(len(level_colors) + 1) - 0.5, cmap.N)
    ax.pcolormesh(np.arange(n_cols + 1), np.arange(n_rows + 1), mat, cmap=cmap, norm=norm,
                  edgecolors="black", linewidth=0.72, antialiased=False)
    ax.set_xlim(0, n_cols)
    ax.set_ylim(n_rows, 0)

    # sample name strip
    top = add_axes_px(fig, 0, 0, grid_right, heat_top)
    top.set_xlim(0, n_cols)
    top.set_ylim(heat_top, 0)
    strip_colors = ["#c0c0c0" if i < n_gray_samples else "#ffc800" for i in range(n_cols)]
    top.bar(np.arange(n_cols) + 0.5, 343, width=1.0, bottom=3, color=strip_colors, linewidth=0)
    top.vlines(np.arange(1, n_cols + 1), 0, heat_top, color="black", linewidth=0.72)
    for i, name in enumerate(sample_names):
        top.text(i + 0.5, 345, name, rotation=90, ha="center", va="bottom", fontsize=7.2,
                 color="#555555")

    # gene labels on the right
    side = add_axes_px(fig, grid_right, heat_top, W, heat_top + n_rows * 12)
    side.set_xlim(grid_right, W)
    side.set_ylim(n_rows, 0)
    side.hlines(np.arange(n_rows + 1), grid_right, W, color="black", linewidth=0.72)
    for i, gene in enumerate(gene_names):
        side.text(6094, i + 0.5, gene, ha="left", va="center", fontsize=8.3, color="#666666")
    fig.text(6095 / W, 1 - 352 / H, "SampleName", ha="left", va="center", fontsize=10.6, color="#333333")

    plt.savefig("out.png", dpi=100)


if __name__ == "__main__":
    main()
